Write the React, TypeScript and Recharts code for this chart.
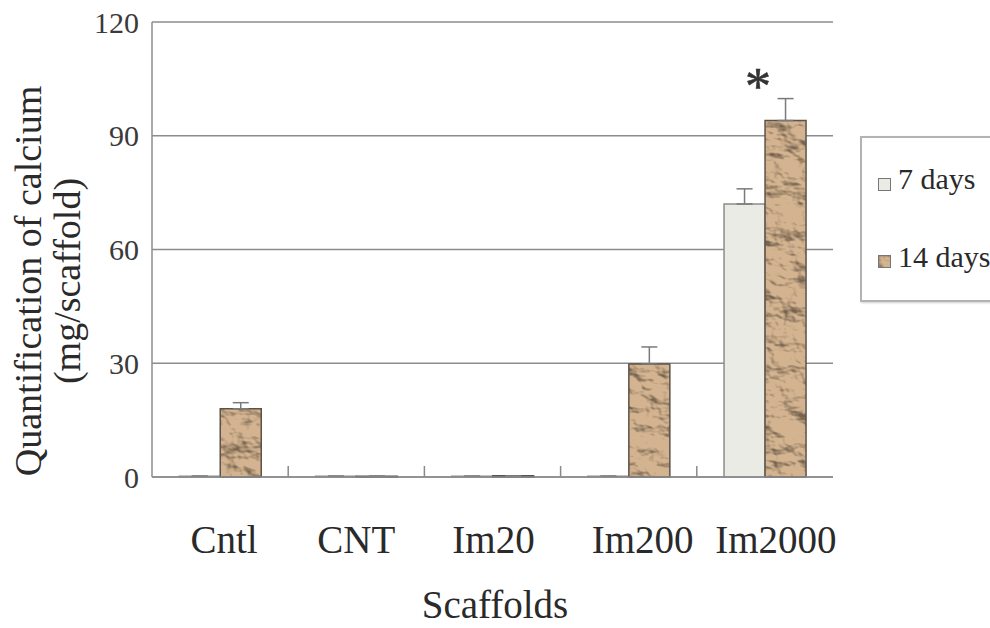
import React from 'react';
import { BarChart, Bar, XAxis, YAxis, CartesianGrid, ErrorBar, LabelList } from 'recharts';

const categories = ['Cntl', 'CNT', 'Im20', 'Im200', 'Im2000'];
const days7 = [0.2, 0.2, 0.2, 0.2, 72];
const days14 = [18, 0.2, 0.3, 29.8, 94];
const err7 = [0, 0, 0, 0, 4];
const err14 = [1.6, 0, 0, 4.5, 5.8];
const significance = ['', '', '', '', '*'];
const yTicks = [0, 30, 60, 90, 120];

const data = categories.map((c, i) => ({
  name: c,
  d7: days7[i],
  d14: days14[i],
  e7: [0, err7[i]],
  e14: [0, err14[i]],
  sig: significance[i],
}));

const W = 990;
const H = 628;
const TOP = 22;
const BOTTOM_H = 151;
const LEFT_W = 152;
const RIGHT_M = 157;
const PLOT_BOTTOM = H - BOTTOM_H;
const FONT = '"Liberation Serif", "Times New Roman", serif';
const labelShift = [4, 0, 1, 14, 11];

const TextureDefs = ({ id }: { id: string }) => (
  <defs>
    <filter id={`${id}-f`} x="0" y="0" width="100%" height="100%" filterUnits="objectBoundingBox">
      <feTurbulence type="fractalNoise" baseFrequency="0.028 0.042" numOctaves="4" seed="11" result="noise" />
      <feDiffuseLighting in="noise" surfaceScale="12" lightingColor="#ffffff" diffuseConstant="1.25" result="lit">
        <feDistantLight azimuth="135" elevation="48" />
      </feDiffuseLighting>
      <feComponentTransfer in="lit" result="soft">
        <feFuncR type="linear" slope="0.78" intercept="0.28" />
        <feFuncG type="linear" slope="0.78" intercept="0.28" />
        <feFuncB type="linear" slope="0.78" intercept="0.28" />
      </feComponentTransfer>
      <feBlend in="soft" in2="SourceGraphic" mode="multiply" result="tex" />
      <feComposite in="tex" in2="SourceGraphic" operator="in" />
    </filter>
    <pattern id={id} patternUnits="userSpaceOnUse" width={W} height={H}>
      <rect width={W} height={H} fill="#d4b490" filter={`url(#${id}-f)`} />
    </pattern>
  </defs>
);

const XTick = (props: any) => {
  const { x, payload, index } = props;
  const off = payload && payload.offset != null ? payload.offset : 68;
  return (
    <g>
      <text
        x={x + (labelShift[index] || 0)}
        y={553}
        textAnchor="middle"
        fontSize={39}
        fontFamily={FONT}
        fill="#2a2a2a"
      >
        {payload.value}
      </text>
      {index > 0 && (
        <line x1={x - off} x2={x - off} y1={PLOT_BOTTOM} y2={PLOT_BOTTOM - 11} stroke="#8a8a8a" strokeWidth={1.5} />
      )}
    </g>
  );
};

const YLabel = () => (
  <g fontFamily={FONT} fontSize={38} fill="#2a2a2a">
    <text x={41} y={281} transform="rotate(-90 41 281)" textAnchor="middle">
      Quantification of calcium
    </text>
    <text x={80} y={281} transform="rotate(-90 80 281)" textAnchor="middle">
      (mg/scaffold)
    </text>
  </g>
);

const Asterisk = (props: any) => {
  const { x, y, width, value } = props;
  if (!value) return null;
  return (
    <text x={x + width - 7} y={y - 100} textAnchor="middle" fontSize={52} fontFamily={FONT} fill="#333" stroke="#333" strokeWidth={0.6}>
      {value}
    </text>
  );
};

export default function App() {
  return (
    <div style={{ position: 'absolute', left: 0, top: 0, width: W, height: H, background: '#fff', overflow: 'hidden' }}>
      <BarChart
        width={W}
        height={H}
        data={data}
        margin={{ top: TOP, right: RIGHT_M, left: 0, bottom: 0 }}
        barCategoryGap="20%"
        barGap={0}
      >
        <TextureDefs id="crumple" />
        <CartesianGrid vertical={false} stroke="#8a8c90" strokeWidth={1.5} />
        <XAxis
          dataKey="name"
          height={BOTTOM_H}
          tickLine={false}
          axisLine={{ stroke: '#8a8c90', strokeWidth: 1.5 }}
          tick={<XTick />}
          interval={0}
          label={{ value: 'Scaffolds', position: 'insideBottom', offset: 0, content: () => (
            <text x={495} y={618} textAnchor="middle" fontSize={39} fontFamily={FONT} fill="#2a2a2a">Scaffolds</text>
          ) }}
        />
        <YAxis
          width={LEFT_W}
          domain={[0, 120]}
          ticks={yTicks}
          tickLine={false}
          tickMargin={7}
          axisLine={{ stroke: '#8a8c90', strokeWidth: 1.5 }}
          tick={{ fontSize: 30, fontFamily: FONT, fill: '#3a3a3a' }}
          label={{ content: () => <YLabel /> }}
        />
        <YAxis
          yAxisId="r"
          orientation="right"
          width={0}
          domain={[0, 120]}
          tick={false}
          tickLine={false}
          axisLine={{ stroke: '#8a8c90', strokeWidth: 1.5 }}
        />
        <Bar dataKey="d7" name="7 days" fill="#ebebe6" stroke="#8c8c8c" strokeWidth={1.5} isAnimationActive={false}>
          <ErrorBar dataKey="e7" width={8} stroke="#7a7a7a" strokeWidth={1.5} />
          <LabelList dataKey="sig" content={<Asterisk />} />
        </Bar>
        <Bar dataKey="d14" name="14 days" fill="url(#crumple)" stroke="#5e5248" strokeWidth={1.5} isAnimationActive={false}>
          <ErrorBar dataKey="e14" width={8} stroke="#7a7a7a" strokeWidth={1.5} />
        </Bar>
      </BarChart>
      <div
        style={{
          position: 'absolute',
          left: 860,
          top: 136,
          width: 150,
          height: 166,
          border: '2px solid #b3b3b3',
          boxShadow: '1px 1px 2px #cfcfcf',
          background: '#fff',
          fontFamily: FONT,
          fontSize: 30,
          color: '#2a2a2a',
          boxSizing: 'border-box',
        }}
      >
        <div style={{ position: 'absolute', left: 16, top: 40, width: 13, height: 13, background: '#ebebe6', border: '1px solid #777', boxSizing: 'border-box' }} />
        <div style={{ position: 'absolute', left: 36, top: 24, lineHeight: '34px', whiteSpace: 'nowrap' }}>7 days</div>
        <svg style={{ position: 'absolute', left: 16, top: 117 }} width={13} height={13}>
          <TextureDefs id="crumple-leg" />
          <rect x={0.5} y={0.5} width={12} height={12} fill="url(#crumple-leg)" stroke="#777" strokeWidth={1} />
        </svg>
        <div style={{ position: 'absolute', left: 36, top: 102, lineHeight: '34px', whiteSpace: 'nowrap' }}>14 days</div>
      </div>
    </div>
  );
}
